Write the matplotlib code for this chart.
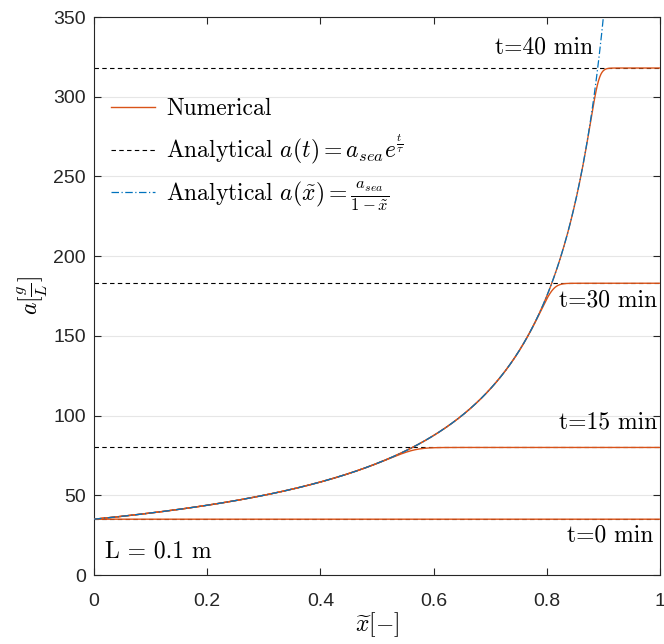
import numpy as np
import matplotlib
matplotlib.use("Agg")
import matplotlib.pyplot as plt

# ---- data ----
a_sea = 35.0                       # g/L, inlet concentration
times_min = [0, 15, 30, 40]        # minutes
plateau = [35.0, 80.0, 183.0, 318.0]   # a(t) = a_sea * exp(t/tau)
time_labels = ["t=0 min", "t=15 min", "t=30 min", "t=40 min"]
label_pos_x = [0.988, 0.995, 0.995, 0.795]
label_pos_y = [25, 96, 172, 331]
label_ha = ["right", "right", "right", "center"]
x_ticks = [0, 0.2, 0.4, 0.6, 0.8, 1]
x_ticklabels = ["0", "0.2", "0.4", "0.6", "0.8", "1"]
y_ticks = [0, 50, 100, 150, 200, 250, 300, 350]
sharpness = [30, 30, 26, 22]   # transition sharpness of numerical fronts

plt.rcParams['mathtext.fontset'] = 'cm'
plt.rcParams['axes.unicode_minus'] = False

fig = plt.figure(figsize=(6.64, 6.44), dpi=100)
ax = fig.add_axes([94/664, 69/644, 566/664, 558/644])

orange = '#D95319'
blue = '#0072BD'

x = np.linspace(0, 1, 3000)
xa = np.linspace(0, 0.9999, 4000)
analytical_x = a_sea / (1 - xa)

# dashed analytical plateaus
for i, p in enumerate(plateau):
    ax.plot([0, 1], [p, p], color='black', ls=(0, (4, 3)), lw=0.8, zorder=2,
            label=r'Analytical $a(t)=a_{sea}e^{\frac{t}{\tau}}$' if i == 1 else None)

# numerical curves
for i, p in enumerate(plateau):
    k = sharpness[i]
    A = a_sea / (1 - np.minimum(x, 0.99999))
    num = (A ** -k + p ** -k) ** (-1.0 / k)
    if i == 0:
        num = np.full_like(x, p)
    ax.plot(x, num, color=orange, lw=1.0, zorder=3,
            label='Numerical' if i == 0 else None)

ax.plot(xa, analytical_x, color=blue, ls=(0, (6, 2, 1, 2)), lw=0.9, zorder=4,
        label=r'Analytical $a(\tilde{x})=\frac{a_{sea}}{1-\tilde{x}}$')

for lab, lx, ly, ha in zip(time_labels, label_pos_x, label_pos_y, label_ha):
    ax.text(lx, ly, lab, ha=ha, va='center', fontsize=17, fontfamily='cmr10',
            color='black', zorder=5)
ax.text(0.02, 15, 'L = 0.1 m', ha='left', va='center', fontsize=17,
        fontfamily='cmr10', color='black')

ax.set_xlim(0, 1)
ax.set_ylim(0, 350)
ax.set_xticks(x_ticks)
ax.set_xticklabels(x_ticklabels)
ax.set_yticks(y_ticks)
ax.yaxis.grid(True, color='#e6e6e6', lw=0.8)
ax.set_axisbelow(True)
ax.tick_params(direction='in', top=True, right=True, length=5, width=0.8,
               labelsize=14, labelcolor='#262626', color='#262626', pad=6)
ax.tick_params(axis='x', pad=13)
for lab in ax.get_xticklabels() + ax.get_yticklabels():
    lab.set_fontfamily('Liberation Sans')
for s in ax.spines.values():
    s.set_color('#262626')
    s.set_linewidth(0.8)

ax.set_xlabel(r'$\widetilde{x}[-]$', fontsize=17, labelpad=0)
ax.set_ylabel(r'$a[\frac{g}{L}]$', fontsize=17, labelpad=2)

handles, labels = ax.get_legend_handles_labels()
order = [labels.index('Numerical'),
         [i for i, l in enumerate(labels) if 'a(t)' in l][0],
         [i for i, l in enumerate(labels) if 'tilde' in l][0]]
leg = ax.legend([handles[i] for i in order], [labels[i] for i in order],
                loc='upper left', bbox_to_anchor=(0.0, 0.884), frameon=False,
                prop={'family': 'cmr10', 'size': 17}, handlelength=1.9,
                handletextpad=0.45, labelspacing=0.54, borderaxespad=0.3)

fig.savefig('out.png', dpi=100)
